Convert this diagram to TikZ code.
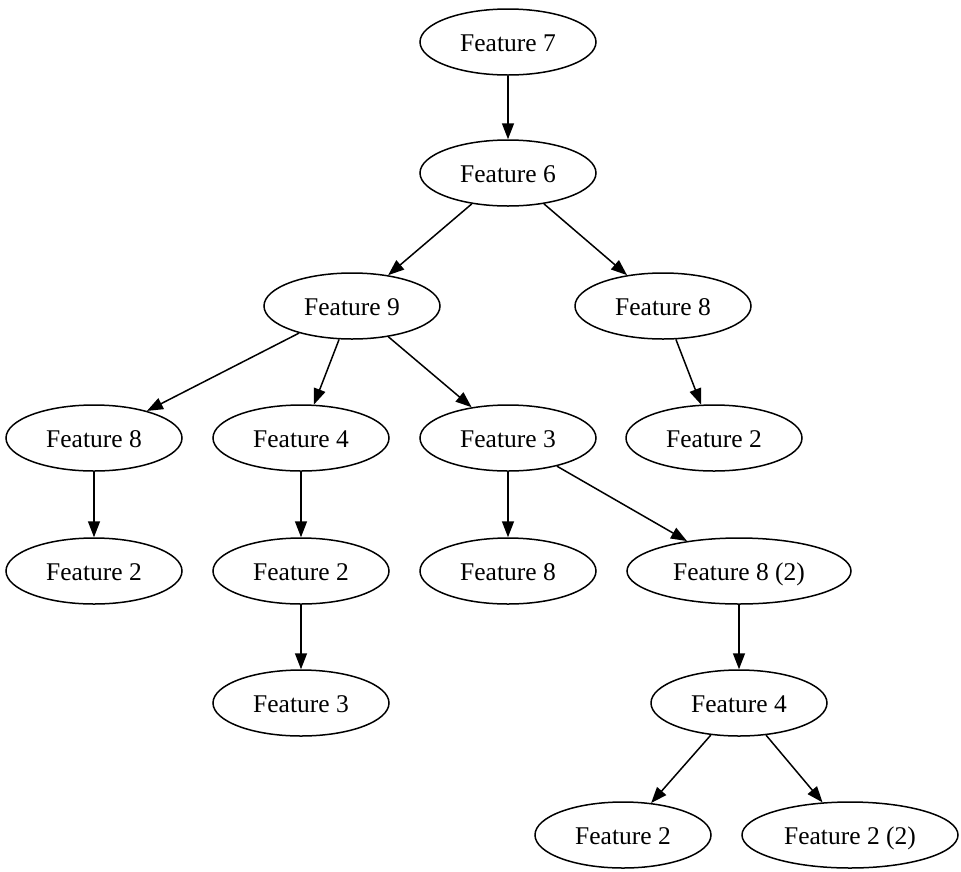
\documentclass[tikz,border=0pt]{standalone}
\usepackage{fontspec}
\setmainfont{Liberation Serif}
\usetikzlibrary{shapes.geometric,arrows.meta}
\begin{document}
\begin{tikzpicture}[x=1pt,y=-1pt,
  feat/.style={draw,ellipse,line width=1.5pt,minimum width=176pt,minimum height=66pt,inner sep=0pt,text height=18pt,text depth=0pt,font=\fontsize{25.5}{30}\selectfont},
  wide/.style={minimum width=224pt},
  wider/.style={minimum width=216pt},
  edge/.style={draw,line width=1.5pt,-{Triangle[length=16pt,width=12pt]}}]
\useasboundingbox (0,0) rectangle (961,871);
\node[feat] (f7) at (508,42) {Feature 7};
\node[feat] (f6) at (508,173) {Feature 6};
\node[feat] (f9) at (352,306) {Feature 9};
\node[feat] (f8a) at (663,306) {Feature 8};
\node[feat] (f8b) at (94,438) {Feature 8};
\node[feat] (f4a) at (301,438) {Feature 4};
\node[feat] (f3a) at (508,438) {Feature 3};
\node[feat] (f2a) at (714,438) {Feature 2};
\node[feat] (f2b) at (94,571) {Feature 2};
\node[feat] (f2c) at (301,571) {Feature 2};
\node[feat] (f8c) at (508,571) {Feature 8};
\node[feat,wide] (f8d) at (739,571) {Feature 8 (2)};
\node[feat] (f3b) at (301,703) {Feature 3};
\node[feat] (f4b) at (739,703) {Feature 4};
\node[feat] (f2d) at (623,835) {Feature 2};
\node[feat,wider] (f2e) at (850,835) {Feature 2 (2)};
\path[edge] (f7) -- (f6);
\path[edge] (f6) -- (f9);
\path[edge] (f6) -- (f8a);
\path[edge] (f9) -- (f8b);
\path[edge] (f9) -- (f4a);
\path[edge] (f9) -- (f3a);
\path[edge] (f8a) -- (f2a);
\path[edge] (f8b) -- (f2b);
\path[edge] (f4a) -- (f2c);
\path[edge] (f2c) -- (f3b);
\path[edge] (f3a) -- (f8c);
\path[edge] (f3a) -- (f8d);
\path[edge] (f8d) -- (f4b);
\path[edge] (f4b) -- (f2d);
\path[edge] (f4b) -- (f2e);
\end{tikzpicture}
\end{document}
